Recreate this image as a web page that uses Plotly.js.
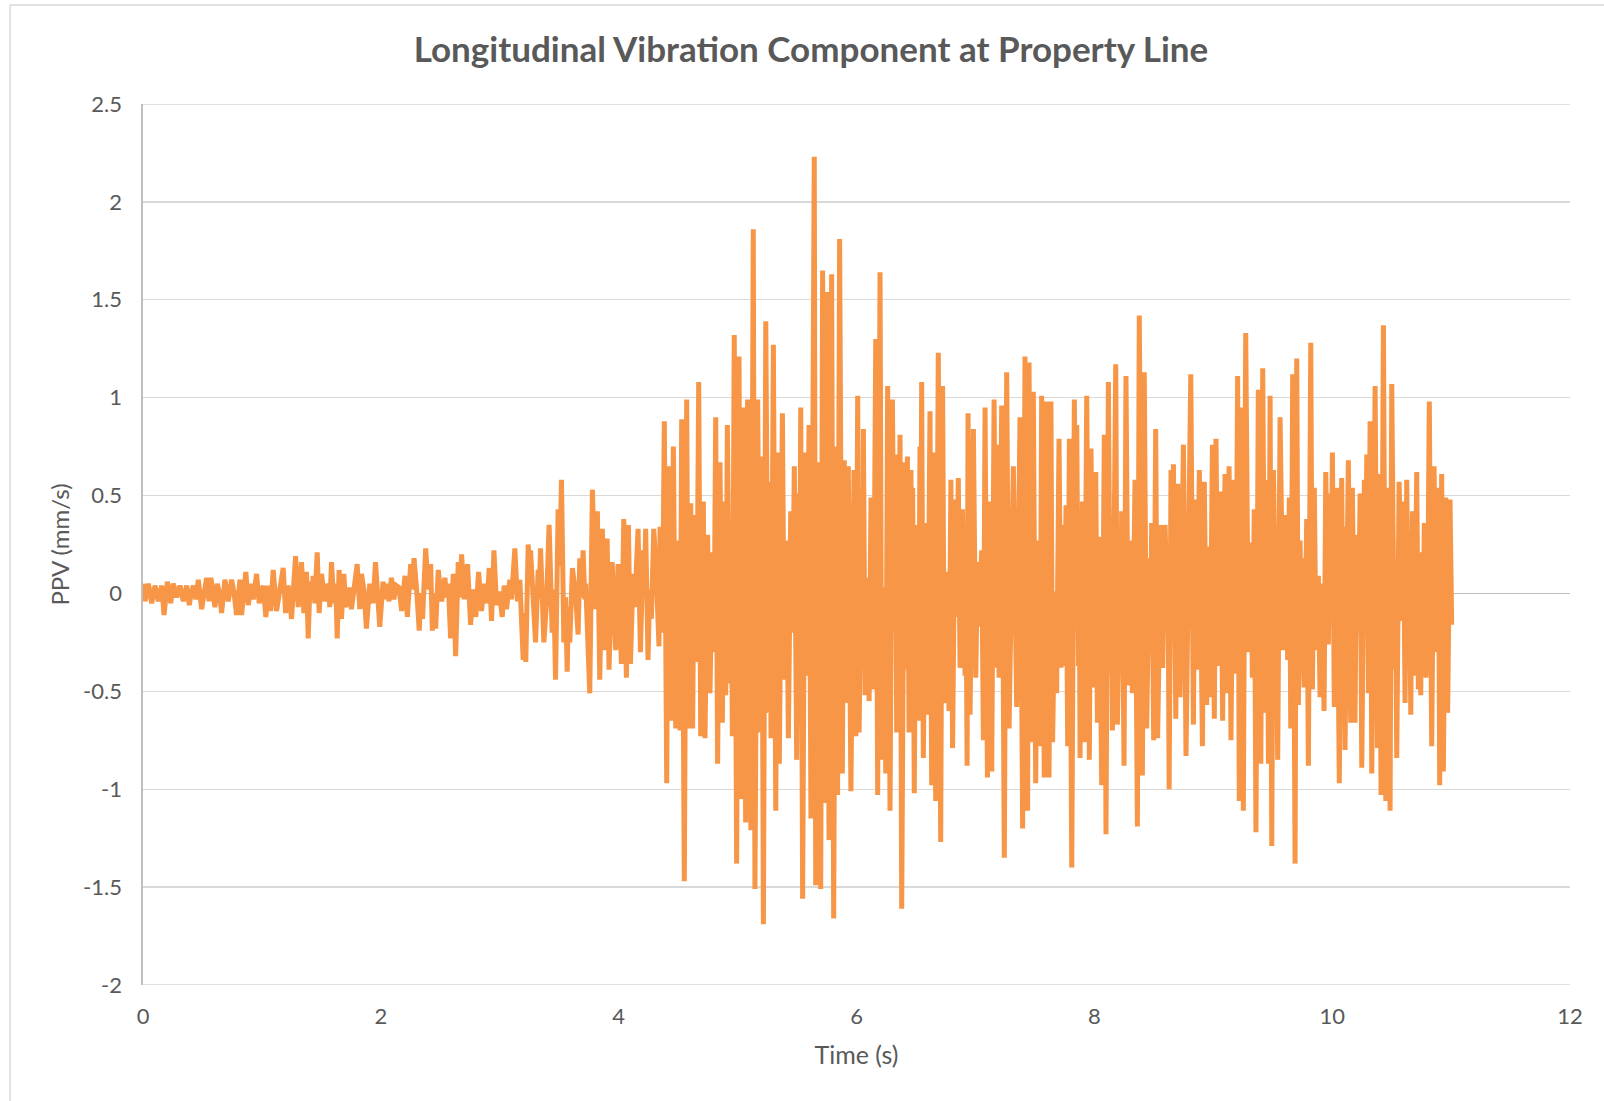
<!DOCTYPE html>
<html>
<head>
<meta charset="utf-8">
<script src="https://cdn.plot.ly/plotly-3.0.1.min.js"></script>
<style>
html,body{margin:0;padding:0;background:#fff;}
#chart{width:1604px;height:1101px;}
</style>
</head>
<body>
<div id="chart"></div>
<script>
// Time (s) and PPV (mm/s), segment by segment
const timeSeg1 = [0.000,0.017,0.045,0.073,0.101,0.129,0.157,0.177,0.205,0.233,
  0.255,0.283,0.311,0.339,0.367,0.389,0.405,0.423,0.445,0.465,
  0.493,0.515,0.535,0.555,0.571,0.588,0.605,0.625,0.643,0.661,
  0.689,0.717,0.745,0.766,0.787,0.815,0.829,0.847,0.865,0.885,
  0.913,0.927,0.955,0.977,1.011,1.033,1.053,1.073,1.095,1.123,
  1.151,1.179,1.199,1.221,1.249,1.283,1.305,1.333,1.353,1.375,
  1.389,1.405,1.420,1.431,1.445,1.465,1.481,1.501,1.529,1.557,
  1.571,1.585,1.605,1.621,1.633,1.649,1.669,1.689,1.705,1.733,
  1.753,1.801,1.823,1.837,1.857,1.879,1.907,1.935,1.955,1.977,
  1.991,2.019,2.033,2.047,2.069,2.089,2.109,2.131,2.153,2.175];
const ppvSeg1 = [0.05,-0.04,0.05,-0.05,0.04,-0.04,0.04,-0.11,0.06,-0.05,
  0.05,-0.02,0.04,-0.04,0.04,-0.06,0.00,0.04,-0.03,0.07,
  -0.08,0.00,0.08,-0.04,0.08,0.01,-0.07,0.05,0.00,-0.10,
  0.07,-0.04,0.07,0.00,-0.11,0.07,-0.11,0.00,0.11,-0.06,
  0.05,-0.03,0.10,-0.05,0.04,-0.12,0.04,-0.09,0.12,-0.09,
  0.01,0.13,-0.10,0.04,-0.13,0.19,-0.07,0.16,-0.10,0.11,
  -0.23,0.06,-0.02,0.09,-0.05,0.21,-0.10,0.10,-0.04,0.05,
  -0.07,0.16,-0.05,0.05,-0.23,0.12,-0.13,0.10,-0.07,0.03,
  -0.08,0.15,-0.08,0.10,0.02,-0.18,0.05,-0.05,0.16,0.00,
  -0.17,0.06,-0.03,0.05,-0.04,0.08,-0.03,0.04,0.03,-0.09];

const timeSeg2 = [2.203,2.223,2.251,2.265,2.279,2.301,2.323,2.337,2.351,2.377,
  2.399,2.419,2.433,2.447,2.461,2.483,2.511,2.539,2.553,2.567,
  2.587,2.609,2.629,2.651,2.665,2.679,2.701,2.729,2.755,2.777,
  2.799,2.822,2.847,2.867,2.895,2.911,2.931,2.951,2.973,2.995,
  3.021,3.037,3.057,3.085,3.099,3.127,3.149,3.169,3.197,3.208,
  3.219,3.239,3.250,3.259,3.281,3.301,3.323,3.331,3.343,3.371,
  3.393,3.415,3.441,3.455,3.469,3.491,3.505,3.519,3.539,3.553,
  3.567,3.578,3.589,3.611,3.637,3.659,3.673,3.687,3.701,3.715,
  3.723,3.735,3.757,3.779,3.799,3.807,3.821,3.841,3.863,3.883,
  3.903,3.919,3.945,3.975,3.995,4.023,4.043,4.065,4.082,4.099,
  4.121,4.135,4.163,4.183,4.205,4.216,4.227,4.247,4.261,4.275,
  4.295,4.317,4.339,4.348,4.368];
const ppvSeg2 = [0.09,-0.12,0.15,0.02,0.18,0.02,-0.19,0.00,-0.13,0.23,
  0.02,0.15,-0.19,0.00,-0.18,0.12,-0.04,0.08,-0.02,0.05,
  -0.23,0.10,-0.32,0.16,-0.02,0.20,-0.03,0.15,-0.16,0.02,
  -0.12,0.11,-0.09,0.05,-0.05,0.13,-0.14,0.22,-0.06,0.01,
  -0.12,0.04,-0.08,0.07,-0.03,0.23,-0.04,0.07,-0.34,-0.10,
  -0.35,0.25,0.12,0.22,-0.03,-0.25,0.12,-0.02,0.23,-0.25,
  -0.05,0.35,-0.20,0.02,-0.44,0.43,0.14,0.58,-0.25,-0.02,
  -0.40,-0.07,-0.25,0.13,0.00,-0.21,0.18,-0.02,0.22,-0.03,
  0.05,-0.12,-0.51,0.53,0.05,-0.08,0.42,-0.44,0.33,-0.29,
  0.28,-0.39,0.16,-0.29,0.15,-0.36,0.38,-0.43,0.35,-0.36,
  0.10,-0.07,0.33,-0.30,0.22,0.02,0.33,-0.34,0.02,-0.13,
  0.33,0.09,-0.27,0.34,-0.20];

const timeSeg3 = [4.384,4.404,4.418,4.440,4.460,4.480,4.496,4.516,4.530,4.552,
  4.572,4.586,4.606,4.622,4.636,4.656,4.673,4.690,4.712,4.726,
  4.748,4.768,4.788,4.802,4.816,4.832,4.852,4.872,4.886,4.900,
  4.914,4.936,4.947,4.956,4.972,4.992,5.012,5.028,5.048,5.068,
  5.084,5.112,5.132,5.146];
const ppvSeg3 = [0.88,-0.97,0.65,-0.65,0.75,-0.69,0.27,-0.70,0.89,-1.47,
  0.99,-0.69,0.46,-0.69,0.40,-0.35,1.08,-0.73,0.47,-0.74,
  0.30,-0.51,0.21,-0.30,0.90,-0.87,0.67,-0.66,0.47,-0.52,
  0.86,-0.46,0.20,-0.73,1.32,-1.38,1.21,-1.05,0.95,-1.17,
  0.99,-1.21,1.86,-1.51];

const timeSeg4 = [5.169,5.189,5.203,5.217,5.237,5.259,5.273,5.281,5.301,5.321,
  5.337,5.351,5.377,5.393,5.413,5.427,5.447,5.463,5.477,5.497,
  5.511,5.522,5.531,5.547,5.567,5.581,5.601,5.617,5.645,5.657,
  5.679,5.699,5.715,5.729,5.749,5.769,5.791,5.808,5.825,5.841,
  5.858,5.881,5.897,5.917,5.931,5.953,5.979,5.995];
const ppvSeg4 = [0.99,-0.71,0.70,-1.69,1.39,-0.61,0.57,-0.74,1.27,-1.11,
  0.72,-0.87,0.92,-0.44,0.27,-0.74,0.42,-0.20,0.65,-0.85,
  0.51,-0.10,0.95,-1.56,0.72,-0.42,0.86,-1.15,2.23,-1.49,
  0.67,-1.51,1.65,-1.07,1.54,-1.26,1.63,-1.66,0.75,-1.03,
  1.81,-0.92,0.68,-0.56,0.65,-1.01,0.63,-0.73];

const timeSeg5 = [6.010,6.022,6.044,6.052,6.058,6.072,6.094,6.106,6.122,6.142,
  6.162,6.178,6.198,6.212,6.234,6.246,6.262,6.282,6.302,6.318,
  6.330,6.338,6.346,6.355,6.366,6.380,6.402,6.416,6.428,6.442,
  6.458,6.464,6.472,6.486,6.500,6.520,6.534,6.542,6.548,6.562,
  6.582,6.598,6.618,6.632,6.649,6.666,6.688,6.708,6.724,6.738,
  6.758,6.778,6.794,6.808,6.828,6.842,6.856];
const ppvSeg5 = [1.01,-0.71,0.49,-0.20,0.84,-0.52,0.08,-0.55,0.49,-0.49,
  1.30,-1.03,1.64,-0.85,0.03,-0.92,1.06,-1.11,0.99,-0.19,
  0.30,-0.71,0.71,0.10,0.81,-1.61,0.67,-0.39,0.70,-0.71,
  0.63,0.10,0.54,-1.02,0.35,-0.65,0.75,0.20,1.08,-0.84,
  0.36,-0.62,0.93,-0.98,0.72,-1.06,1.23,-1.27,1.06,-0.56,
  0.11,-0.60,0.58,-0.79,0.48,-0.12,0.59];

const timeSeg6 = [6.871,6.891,6.913,6.921,6.930,6.938,6.955,6.983,7.003,7.017,
  7.027,7.053,7.067,7.081,7.101,7.117,7.137,7.157,7.171,7.185,
  7.199,7.221,7.243,7.263,7.283,7.299,7.319,7.347,7.361,7.375,
  7.397,7.417,7.439,7.451,7.467,7.487,7.507,7.523,7.543,7.557,
  7.579,7.599,7.619,7.635,7.649,7.669,7.683,7.703];
const ppvSeg6 = [-0.38,0.43,-0.42,0.10,-0.88,0.92,-0.62,0.84,-0.43,0.16,
  -0.17,0.22,-0.75,0.95,-0.94,0.47,-0.91,0.99,-0.38,0.76,
  -0.43,0.96,-1.35,1.13,-0.69,0.05,0.65,-0.58,0.10,0.90,
  -1.20,1.21,-1.11,1.18,-0.76,1.03,-0.97,0.27,-0.78,1.01,
  -0.94,0.98,-0.94,0.98,-0.76,0.01,-0.51,0.79];

const timeSeg7 = [7.720,7.732,7.748,7.762,7.776,7.790,7.810,7.832,7.844,7.852,
  7.866,7.874,7.880,7.900,7.916,7.936,7.958,7.972,7.992,8.012,
  8.026,8.040,8.062,8.084,8.098,8.118,8.135,8.143,8.152,8.180,
  8.194,8.216,8.224,8.230,8.250,8.266,8.286,8.300,8.320,8.342,
  8.362,8.378,8.404,8.420,8.440,8.462,8.476,8.482,8.499,8.516,
  8.532];
const ppvSeg7 = [-0.38,0.35,-0.37,0.45,-0.78,0.79,-1.40,0.99,0.20,0.86,
  -0.37,0.05,-0.84,0.47,-0.76,1.01,-0.85,0.74,-0.48,0.62,
  -0.66,0.29,-0.98,0.81,-1.23,1.08,-0.41,0.10,-0.70,1.17,
  -0.67,0.26,-0.10,0.42,-0.88,1.11,-0.47,0.27,-0.51,0.58,
  -1.19,1.42,-0.93,1.13,-0.69,0.18,-0.20,0.36,-0.75,0.84,
  -0.74];

const timeSeg8 = [8.561,8.575,8.595,8.612,8.620,8.629,8.645,8.657,8.665,8.685,
  8.701,8.721,8.749,8.771,8.791,8.811,8.833,8.847,8.861,8.883,
  8.909,8.925,8.945,8.959,8.973,8.993,9.009,9.023,9.043,9.063,
  9.079,9.099,9.116,9.133,9.149,9.169,9.189,9.205,9.219,9.239,
  9.253,9.273,9.295,9.315,9.329,9.345,9.359,9.379];
const ppvSeg8 = [0.35,-0.38,0.35,-0.10,0.15,-1.00,0.63,0.05,0.66,-0.64,
  0.56,-0.53,0.76,-0.83,0.01,1.12,-0.67,0.48,-0.39,0.63,
  -0.78,0.57,-0.57,0.24,-0.53,0.76,-0.64,0.79,-0.37,0.52,
  -0.65,0.61,-0.51,0.65,-0.75,0.58,-0.41,1.11,-1.06,0.95,
  -1.11,1.33,-0.30,0.26,-0.43,0.43,-1.22,1.04];

const timeSeg9 = [9.400,9.416,9.436,9.450,9.464,9.478,9.492,9.506,9.520,9.526,
  9.542,9.562,9.590,9.610,9.626,9.640,9.652,9.668,9.688,9.702,
  9.716,9.730,9.738,9.744,9.764,9.786,9.800,9.820,9.834,9.850,
  9.864,9.884,9.898,9.912,9.932,9.946,9.968,9.982,9.990,10.002,
  10.018,10.038,10.060,10.080,10.088,10.094,10.108,10.136,10.156,10.170,
  10.192,10.206];
const ppvSeg9 = [-0.87,1.15,-0.61,0.58,-0.87,1.01,-1.29,0.63,0.05,0.33,
  -0.85,0.90,-0.29,0.40,-0.34,0.49,-0.69,1.12,-1.38,1.20,
  -0.57,0.27,-0.10,0.18,-0.48,0.38,-0.88,1.28,-0.49,0.54,
  -0.29,0.09,-0.53,0.05,-0.60,0.62,-0.26,0.51,-0.10,0.72,
  -0.58,0.54,-0.97,0.59,-0.10,0.34,-0.80,0.68,-0.66,0.54,
  -0.66,0.30];

const timeSeg10 = [10.221,10.235,10.249,10.271,10.280,10.291,10.305,10.319,10.333,10.361,
  10.381,10.397,10.411,10.431,10.451,10.473,10.487,10.501,10.523,10.532,
  10.543,10.563,10.585,10.599,10.613,10.627,10.641,10.650,10.661,10.675,
  10.691,10.711,10.725,10.736,10.745,10.753,10.767,10.775,10.789,10.803,
  10.817,10.837,10.857,10.873,10.893,10.904,10.921,10.935,10.955,10.971,
  10.991,11.005];
const ppvSeg10 = [-0.20,0.51,-0.89,0.58,-0.10,0.71,-0.51,0.88,-0.92,1.06,
  -0.79,0.61,-1.03,1.37,-1.06,0.54,-1.11,1.07,-0.39,0.10,
  -0.84,0.57,-0.14,0.47,-0.56,0.58,-0.35,0.10,-0.62,0.42,
  -0.42,0.62,-0.49,0.10,-0.52,0.21,-0.10,0.36,-0.43,-0.08,
  0.98,-0.78,0.65,-0.30,0.54,-0.98,0.61,-0.91,0.49,-0.61,
  0.48,-0.16];

const xTickVals = [0, 2, 4, 6, 8, 10, 12];
const xTickText = ['0', '2', '4', '6', '8', '10', '12'];
const yTickVals = [-2, -1.5, -1, -0.5, 0, 0.5, 1, 1.5, 2, 2.5];
const yTickText = ['-2', '-1.5', '-1', '-0.5', '0', '0.5', '1', '1.5', '2', '2.5'];
const yMin = -2, yMax = 2.5, xMin = 0, xMax = 12;

const chartTitle = 'Longitudinal Vibration Component at Property Line';
const xTitle = 'Time (s)';
const yTitle = 'PPV (mm/s)';

const timeAll = [].concat(timeSeg1, timeSeg2, timeSeg3, timeSeg4, timeSeg5,
  timeSeg6, timeSeg7, timeSeg8, timeSeg9, timeSeg10);
const ppvAll = [].concat(ppvSeg1, ppvSeg2, ppvSeg3, ppvSeg4, ppvSeg5,
  ppvSeg6, ppvSeg7, ppvSeg8, ppvSeg9, ppvSeg10);

const FONT = 'Lato, "Open Sans", sans-serif';
const GREY = '#595959';
const GRID = '#D9D9D9';

const trace = {
  x: timeAll,
  y: ppvAll,
  type: 'scatter',
  mode: 'lines',
  line: {color: '#F79646', width: 5},
  hoverinfo: 'skip'
};

// Gridlines at the range ends (Plotly drops these), drawn through the y axis
const edgeGrid = [yMin, yMax].map(v => ({
  type: 'line', xref: 'paper', yref: 'y', layer: 'below',
  x0: 0, x1: 1, y0: v, y1: v,
  line: {color: GRID, width: 1.4}
}));

const layout = {
  width: 1604,
  height: 1101,
  paper_bgcolor: '#ffffff',
  plot_bgcolor: '#ffffff',
  margin: {l: 143, r: 34, t: 104, b: 116, pad: 0},
  showlegend: false,
  title: {
    text: chartTitle,
    font: {family: FONT, size: 35, color: GREY, weight: 700},
    xref: 'container', x: 0.5056, xanchor: 'center',
    yref: 'container', y: 0.9546, yanchor: 'middle'
  },
  xaxis: {
    range: [xMin, xMax],
    tickvals: xTickVals,
    ticktext: xTickText,
    showgrid: false,
    zeroline: false,
    showline: false,
    ticks: '',
    ticklabelstandoff: 16,
    tickfont: {family: FONT, size: 22, color: GREY},
    title: {text: xTitle, font: {family: FONT, size: 25, color: GREY}, standoff: 18},
    automargin: false,
    fixedrange: true
  },
  yaxis: {
    range: [yMin, yMax],
    tickvals: yTickVals,
    ticktext: yTickText,
    showgrid: true,
    gridcolor: GRID,
    gridwidth: 1.4,
    zeroline: true,
    zerolinecolor: '#BFBFBF',
    zerolinewidth: 1.6,
    showline: true,
    linecolor: '#BFBFBF',
    linewidth: 1.6,
    ticks: '',
    ticklabelstandoff: 15,
    tickfont: {family: FONT, size: 22, color: GREY},
    title: {text: yTitle, font: {family: FONT, size: 24, color: GREY}, standoff: 7},
    automargin: false,
    fixedrange: true
  },
  shapes: edgeGrid.concat([
    {type: 'line', xref: 'paper', yref: 'paper',
     x0: (10 - 143) / 1427, x1: (10 - 143) / 1427, y0: (985 - 5) / 881, y1: (985 - 1110) / 881,
     line: {color: GRID, width: 1.5}},
    {type: 'line', xref: 'paper', yref: 'paper',
     x0: (10 - 143) / 1427, x1: (1610 - 143) / 1427, y0: (985 - 5) / 881, y1: (985 - 5) / 881,
     line: {color: GRID, width: 1.5}}
  ])
};

Plotly.newPlot('chart', [trace], layout, {displayModeBar: false, staticPlot: true});
</script>
</body>
</html>
